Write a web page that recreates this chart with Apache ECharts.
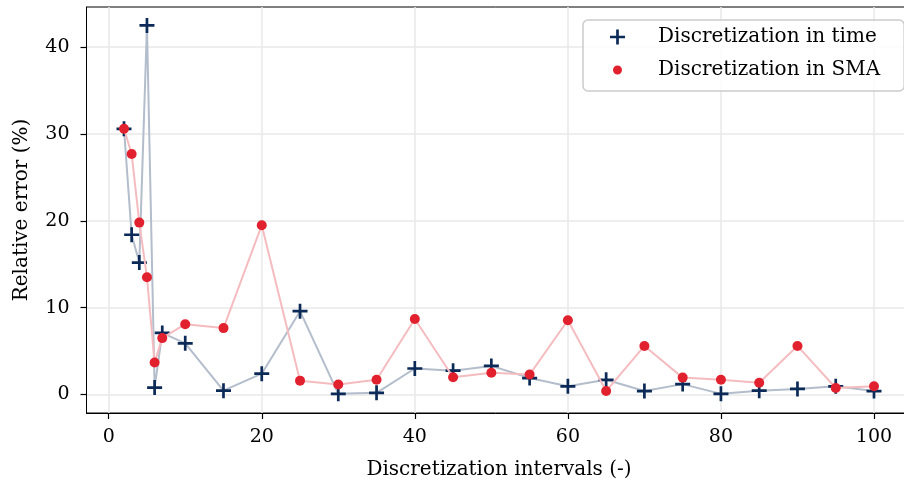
<!DOCTYPE html>
<html lang="en">
  <head>
    <meta charset="UTF-8" />
    <title>Relative error vs discretization</title>
    <script src="https://cdn.jsdelivr.net/npm/echarts@6/dist/echarts.min.js"></script>
    <style>
      * {
        margin: 0;
        padding: 0;
      }
    </style>
  </head>
  <body>
    <div id="charts" style="width: 904px; height: 488px"></div>
    <script>
      // discretization intervals
      var intervals = [2, 3, 4, 5, 6, 7, 10, 15, 20, 25, 30, 35, 40, 45, 50, 55, 60, 65, 70, 75, 80, 85, 90, 95, 100];
      // relative error (%)
      var errTime = [30.6, 18.4, 15.2, 42.5, 0.8, 7.1, 5.9, 0.45, 2.4, 9.6, 0.08, 0.2, 3.0, 2.75, 3.3, 1.9, 0.95, 1.7, 0.4, 1.2, 0.08, 0.45, 0.65, 0.95, 0.4];
      var errSMA = [30.6, 27.7, 19.8, 13.5, 3.7, 6.5, 8.1, 7.65, 19.5, 1.6, 1.15, 1.7, 8.7, 2.0, 2.5, 2.3, 8.55, 0.4, 5.6, 1.95, 1.7, 1.35, 5.6, 0.75, 0.95];
      var xTicks = [0, 20, 40, 60, 80, 100];
      var yTicks = [0, 10, 20, 30, 40];

      var font = "DejaVu Serif";
      var plusPath = "path://M6.15,0H8.85V6.15H15V8.85H8.85V15H6.15V8.85H0V6.15H6.15Z";
      var dotPath = "path://M0,0h0.01v0.01zM15,15h-0.01v-0.01zM3,7.5a4.5,4.5 0 1,0 9,0a4.5,4.5 0 1,0 -9,0z";

      function pairs(ys) {
        return intervals.map(function (x, i) {
          return [x, ys[i]];
        });
      }

      var myEcharts = echarts.init(document.getElementById("charts"));
      var options = {
        animation: false,
        textStyle: { fontFamily: font },
        grid: {
          left: 86.5,
          width: 825,
          top: 7,
          bottom: 75,
          outerBoundsMode: "none",
          containLabel: false,
          show: true,
          borderColor: "#000",
          borderWidth: 1,
        },
        legend: {
          orient: "vertical",
          left: 583,
          top: 20,
          padding: [6, 24, 10, 27],
          itemGap: 11,
          itemWidth: 15,
          itemHeight: 15,
          backgroundColor: "rgba(255,255,255,0.85)",
          borderColor: "#cccccc",
          borderWidth: 1.5,
          borderRadius: 5,
          textStyle: {
            fontFamily: font,
            fontSize: 20,
            color: "#000",
            lineHeight: 22,
            padding: [0, 0, 0, 28],
          },
          data: [
            { name: "Discretization in time", icon: plusPath },
            { name: "Discretization in SMA", icon: dotPath },
          ],
        },
        xAxis: {
          type: "value",
          min: -2.9,
          max: 104.9,
          name: "Discretization intervals (-)",
          nameLocation: "middle",
          nameGap: 47,
          nameTextStyle: { fontFamily: font, fontSize: 20, color: "#000" },
          axisLine: { onZero: false, lineStyle: { color: "#000", width: 1 } },
          axisTick: { length: 6, customValues: xTicks, lineStyle: { color: "#000", width: 1.2 } },
          axisLabel: {
            customValues: xTicks,
            margin: 15,
            fontFamily: font,
            fontSize: 19,
            color: "#000",
          },
          splitLine: { show: true, lineStyle: { color: "#e8e8e8", width: 1.5 } },
        },
        yAxis: {
          type: "value",
          min: -2.125,
          max: 44.625,
          name: "Relative error (%)",
          nameLocation: "middle",
          nameGap: 55,
          nameTextStyle: { fontFamily: font, fontSize: 20, color: "#000" },
          axisLine: { show: true, onZero: false, lineStyle: { color: "#000", width: 1 } },
          axisTick: { show: true, length: 6, customValues: yTicks, lineStyle: { color: "#000", width: 1.2 } },
          axisLabel: {
            customValues: yTicks,
            margin: 17,
            fontFamily: font,
            fontSize: 19,
            color: "#000",
          },
          splitLine: { show: true, lineStyle: { color: "#e8e8e8", width: 1.5 } },
        },
        series: [
          {
            name: "Discretization in time",
            type: "line",
            data: pairs(errTime),
            symbol: plusPath,
            symbolSize: 15,
            showAllSymbol: true,
            lineStyle: { color: "#b3bdcb", width: 2 },
            itemStyle: { color: "#0b2a57", borderWidth: 0 },
            z: 2,
          },
          {
            name: "Discretization in SMA",
            type: "line",
            data: pairs(errSMA),
            symbol: "circle",
            symbolSize: 10,
            showAllSymbol: true,
            lineStyle: { color: "#f5bcc0", width: 2 },
            itemStyle: { color: "#e2212f", borderWidth: 0 },
            z: 3,
          },
        ],
      };
      myEcharts.setOption(options);
    </script>
  </body>
</html>
